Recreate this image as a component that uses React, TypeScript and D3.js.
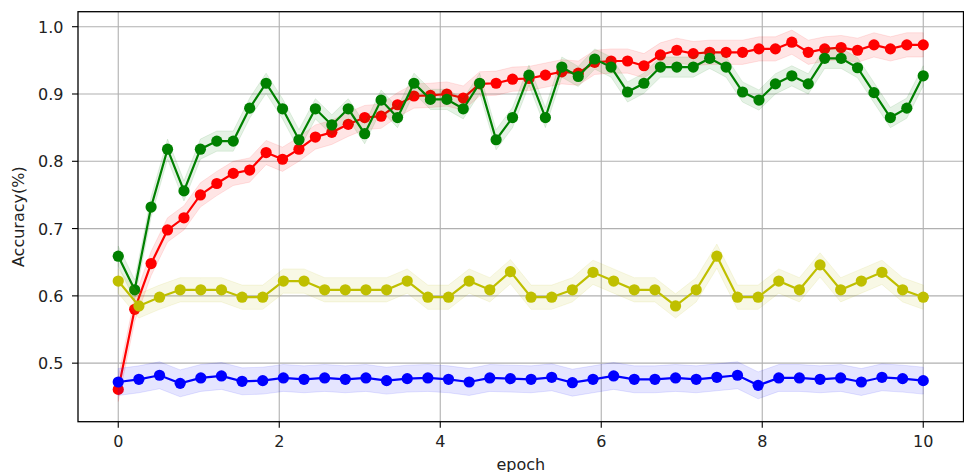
import * as d3 from "d3";

// accuracy per evaluation step
const redAcc = [
  0.461, 0.58, 0.648, 0.698, 0.716, 0.75, 0.767, 0.782, 0.787, 0.813,
  0.803, 0.818, 0.836, 0.843, 0.855, 0.865, 0.867, 0.884, 0.897, 0.898,
  0.9, 0.894, 0.915, 0.916, 0.922, 0.923, 0.928, 0.933, 0.931, 0.947,
  0.949, 0.949, 0.942, 0.958, 0.965, 0.96, 0.962, 0.962, 0.962, 0.967,
  0.967, 0.977, 0.962, 0.967, 0.969, 0.965, 0.973, 0.967, 0.973, 0.973,
];
const greenAcc = [
  0.659, 0.609, 0.732, 0.818, 0.756, 0.818, 0.83, 0.83, 0.879, 0.916,
  0.878, 0.832, 0.878, 0.854, 0.878, 0.841, 0.891, 0.865, 0.916, 0.892,
  0.892, 0.878, 0.916, 0.832, 0.865, 0.928, 0.865, 0.94, 0.926, 0.952,
  0.94, 0.903, 0.916, 0.94, 0.94, 0.94, 0.953, 0.94, 0.903, 0.891,
  0.915, 0.927, 0.915, 0.953, 0.953, 0.939, 0.902, 0.865, 0.879, 0.927,
];
const yellowAcc = [
  0.622, 0.585, 0.598, 0.609, 0.609, 0.609, 0.598, 0.598, 0.622, 0.622,
  0.609, 0.609, 0.609, 0.609, 0.622, 0.598, 0.598, 0.622, 0.609, 0.636,
  0.598, 0.598, 0.609, 0.635, 0.622, 0.609, 0.609, 0.585, 0.609, 0.659,
  0.598, 0.598, 0.622, 0.609, 0.646, 0.609, 0.622, 0.635, 0.609, 0.598,
];
const blueAcc = [
  0.472, 0.476, 0.482, 0.47, 0.478, 0.481, 0.473, 0.474, 0.478, 0.476,
  0.478, 0.476, 0.478, 0.474, 0.477, 0.478, 0.476, 0.472, 0.478, 0.477,
  0.476, 0.479, 0.471, 0.476, 0.481, 0.476, 0.476, 0.478, 0.476, 0.479,
  0.482, 0.467, 0.478, 0.478, 0.476, 0.478, 0.472, 0.479, 0.477, 0.474,
];
// half width of the shaded std band of each run
const bandSpread = [0.018, 0.015, 0.018, 0.02];
const seriesColors = ["#ff0000", "#008000", "#bfbf00", "#0000ff"];

const xTicks = [0, 2, 4, 6, 8, 10];
const yTicks = [0.5, 0.6, 0.7, 0.8, 0.9, 1.0];
const maxEpoch = 10;

const width = 964;
const height = 472;
const margin = { left: 78, right: 0.5, top: 11.7, bottom: 50.3 };

const App = () => {
  const x = d3
    .scaleLinear()
    .domain([-0.5, 10.5])
    .range([margin.left, width - margin.right]);
  const y = d3
    .scaleLinear()
    .domain([0.413, 1.0223])
    .range([height - margin.bottom, margin.top]);

  const allSeries = [redAcc, greenAcc, yellowAcc, blueAcc].map((vals, k) => {
    const n = vals.length;
    return {
      color: seriesColors[k],
      spread: bandSpread[k],
      points: vals.map((v, i) => ({ ep: (i * maxEpoch) / (n - 1), v })),
    };
  });

  const line = d3
    .line<{ ep: number; v: number }>()
    .x((d) => x(d.ep))
    .y((d) => y(d.v));

  const plotBottom = height - margin.bottom;
  const font = "DejaVu Sans, sans-serif";

  return (
    <div style={{ position: "fixed", left: 0, top: 0 }}>
      <svg width={width} height={height} style={{ display: "block", background: "#fff" }}>
        <defs>
          <clipPath id="plotArea">
            <rect
              x={margin.left}
              y={margin.top}
              width={width - margin.left - margin.right}
              height={plotBottom - margin.top}
            />
          </clipPath>
        </defs>

        {/* grid */}
        {xTicks.map((t) => (
          <line key={"gx" + t} x1={x(t)} x2={x(t)} y1={margin.top} y2={plotBottom} stroke="#b0b0b0" strokeWidth={1.1} />
        ))}
        {yTicks.map((t) => (
          <line key={"gy" + t} x1={margin.left} x2={width - margin.right} y1={y(t)} y2={y(t)} stroke="#b0b0b0" strokeWidth={1.1} />
        ))}

        <g clipPath="url(#plotArea)">
          {allSeries.map((s, k) => {
            const area = d3
              .area<{ ep: number; v: number }>()
              .x((d) => x(d.ep))
              .y0((d) => y(d.v - s.spread))
              .y1((d) => y(d.v + s.spread));
            return (
              <g key={"s" + k}>
                <path d={area(s.points) || ""} fill={s.color} fillOpacity={0.1} stroke={s.color} strokeOpacity={0.1} />
                <path d={line(s.points) || ""} fill="none" stroke={s.color} strokeWidth={2.2} />
                {s.points.map((p, i) => (
                  <circle key={i} cx={x(p.ep)} cy={y(p.v)} r={5.6} fill={s.color} />
                ))}
              </g>
            );
          })}
        </g>

        {/* frame */}
        <rect
          x={margin.left}
          y={margin.top}
          width={width - margin.left - margin.right}
          height={plotBottom - margin.top}
          fill="none"
          stroke="#000"
          strokeWidth={1.3}
        />

        {/* x axis */}
        {xTicks.map((t) => (
          <g key={"tx" + t}>
            <line x1={x(t)} x2={x(t)} y1={plotBottom} y2={plotBottom + 6} stroke="#000" strokeWidth={1.1} />
            <text x={x(t)} y={plotBottom + 25.5} textAnchor="middle" fontFamily={font} fontSize={16} fill="#222">
              {t}
            </text>
          </g>
        ))}
        {/* y axis */}
        {yTicks.map((t) => (
          <g key={"ty" + t}>
            <line x1={margin.left - 6} x2={margin.left} y1={y(t)} y2={y(t)} stroke="#000" strokeWidth={1.1} />
            <text x={margin.left - 14.5} y={y(t) + 6} textAnchor="end" fontFamily={font} fontSize={16} fill="#222">
              {t.toFixed(1)}
            </text>
          </g>
        ))}

        <text x={(margin.left + width - margin.right) / 2} y={469.5} textAnchor="middle" fontFamily={font} fontSize={16} fill="#222">
          epoch
        </text>
        <text
          transform={`translate(24, ${(margin.top + plotBottom) / 2}) rotate(-90)`}
          textAnchor="middle"
          fontFamily={font}
          fontSize={16}
          fill="#222"
        >
          Accuracy(%)
        </text>
      </svg>
    </div>
  );
};

export default App;
